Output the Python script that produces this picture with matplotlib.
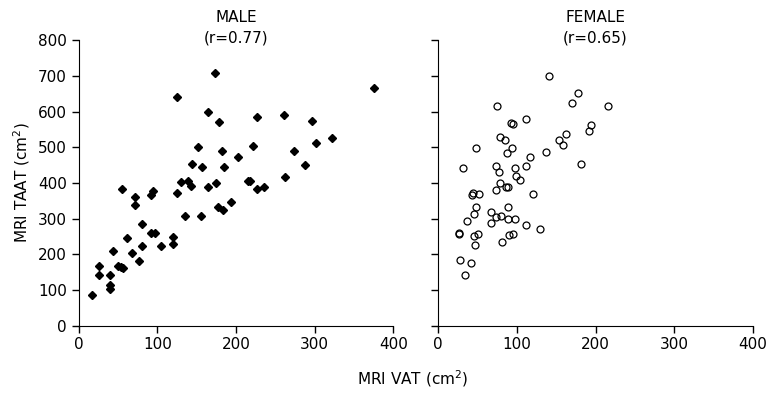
import matplotlib
matplotlib.use("Agg")
import matplotlib.pyplot as plt

# MRI VAT (x) vs MRI TAAT (y), cm^2
male_vat = [17, 26, 26, 39, 39, 40, 43, 50, 53, 56, 55, 61, 68, 71, 72, 77, 80, 80,
            92, 94, 92, 97, 104, 120, 120, 125, 130, 135, 139, 143, 155, 164, 175,
            177, 183, 194, 215, 173, 125, 164, 178, 152, 182, 202, 144, 157, 185,
            375, 226, 261, 297, 221, 322, 302, 274, 288, 262, 218, 226, 235]
male_taat = [85, 168, 141, 141, 113, 102, 209, 168, 164, 161, 384, 245, 203, 360, 339,
             180, 286, 222, 366, 377, 260, 260, 224, 248, 229, 371, 403, 308, 406, 393,
             307, 390, 399, 334, 325, 346, 406, 708, 641, 598, 571, 501, 489, 472, 453,
             445, 446, 668, 585, 591, 575, 505, 527, 511, 489, 450, 416, 407, 384, 389]

female_vat = [78, 104, 74, 86, 89, 44, 43, 52, 120, 48, 88, 45, 36, 67, 67, 73, 80, 88,
              98, 111, 129, 26, 26, 46, 50, 90, 95, 47, 81, 28, 41, 34,
              141, 178, 170, 75, 92, 95, 111, 194, 192, 162, 153, 159, 78, 85, 48, 94,
              87, 137, 117, 31, 73, 77, 98, 111, 181, 99, 216]
female_taat = [400, 408, 380, 389, 388, 371, 365, 370, 368, 332, 332, 313, 293, 319, 287,
               305, 307, 299, 298, 283, 271, 259, 256, 252, 257, 254, 257, 225, 234, 184,
               176, 142, 699, 653, 624, 615, 568, 566, 579, 562, 545, 537, 520, 507, 530,
               520, 498, 497, 484, 486, 473, 441, 449, 431, 443, 448, 453, 421, 615]

titles = ["MALE", "FEMALE"]
r_labels = ["(r=0.77)", "(r=0.65)"]
ticks_x = [0, 100, 200, 300, 400]
ticks_y = [0, 100, 200, 300, 400, 500, 600, 700, 800]

plt.rcParams['font.family'] = ['DejaVu Sans']
fig = plt.figure(figsize=(7.73, 3.97), dpi=100)
ax1 = fig.add_axes([0.102, 0.180, 0.407, 0.718])
ax2 = fig.add_axes([0.567, 0.180, 0.407, 0.718])

ax1.plot(male_vat, male_taat, 'D', color='black', markersize=4.5, linestyle='none')
ax2.plot(female_vat, female_taat, 'o', markerfacecolor='none', markeredgecolor='black',
         markersize=5, markeredgewidth=0.9, linestyle='none')

for ax, t, r in zip([ax1, ax2], titles, r_labels):
    ax.set_xlim(0, 400)
    ax.set_ylim(0, 800)
    ax.set_xticks(ticks_x)
    ax.set_yticks(ticks_y)
    ax.spines['top'].set_visible(False)
    ax.spines['right'].set_visible(False)
    ax.tick_params(direction='out', length=5, width=1, labelsize=11)
    # two title lines placed by hand (figure coords)
    cx = ax.get_position().x0 + ax.get_position().width / 2
    fig.text(cx, 0.957, t, ha='center', va='center', fontsize=11)
    fig.text(cx, 0.904, r, ha='center', va='center', fontsize=11)

ax2.set_yticklabels([])
ax1.set_ylabel("MRI TAAT (cm$^2$)", fontsize=11)
fig.text(0.534, 0.02, "MRI VAT (cm$^2$)", ha='center', va='bottom', fontsize=11)

fig.savefig("out.png", dpi=100)
